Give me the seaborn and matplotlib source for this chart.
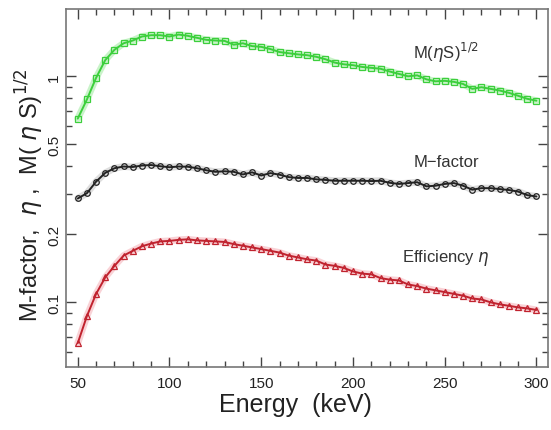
import numpy as np
import pandas as pd
import matplotlib
matplotlib.use("Agg")
import matplotlib.pyplot as plt
from matplotlib.ticker import FixedLocator, NullFormatter
import seaborn as sns

energy = list(range(50, 301, 5))

m_sqrt_etaS = [0.65, 0.79, 0.985, 1.18, 1.31, 1.40, 1.44, 1.50, 1.52, 1.52,
               1.50, 1.53, 1.51, 1.48, 1.45, 1.44, 1.435, 1.38, 1.40, 1.36,
               1.35, 1.32, 1.28, 1.265, 1.25, 1.24, 1.22, 1.19, 1.15, 1.13,
               1.12, 1.10, 1.09, 1.08, 1.05, 1.025, 1.00, 1.01, 0.97, 0.95,
               0.955, 0.945, 0.925, 0.88, 0.895, 0.88, 0.865, 0.845, 0.82, 0.795,
               0.78]

m_factor = [0.288, 0.304, 0.342, 0.374, 0.392, 0.399, 0.397, 0.403, 0.405, 0.400,
            0.396, 0.399, 0.398, 0.392, 0.384, 0.378, 0.380, 0.378, 0.368, 0.376,
            0.364, 0.373, 0.367, 0.358, 0.355, 0.355, 0.350, 0.348, 0.345, 0.345,
            0.345, 0.345, 0.344, 0.345, 0.338, 0.334, 0.337, 0.340, 0.326, 0.328,
            0.334, 0.337, 0.328, 0.315, 0.320, 0.320, 0.317, 0.314, 0.309, 0.298,
            0.294]

efficiency = [0.066, 0.087, 0.109, 0.129, 0.145, 0.161, 0.169, 0.177, 0.182, 0.186,
              0.187, 0.189, 0.190, 0.188, 0.187, 0.186, 0.185, 0.181, 0.178, 0.175,
              0.172, 0.169, 0.166, 0.161, 0.158, 0.155, 0.153, 0.147, 0.145, 0.142,
              0.137, 0.134, 0.133, 0.128, 0.126, 0.125, 0.120, 0.118, 0.115, 0.113,
              0.111, 0.109, 0.107, 0.104, 0.103, 0.100, 0.098, 0.0965, 0.095, 0.094,
              0.0925]

x_ticks = [50, 100, 150, 200, 250, 300]
y_ticks = [0.1, 0.2, 0.5, 1]
y_tick_labels = ["0.1", "0.2", "0.5", "1"]
y_minor = [0.06, 0.07, 0.08, 0.09, 0.3, 0.4, 0.6, 0.7, 0.8, 0.9]

sns.set_style("ticks")
plt.rcParams["font.family"] = ["Liberation Sans", "DejaVu Sans"]
plt.rcParams["mathtext.fontset"] = "dejavusans"

fig = plt.figure(figsize=(5.51, 4.31), dpi=100)
ax = fig.add_axes([0.1198, 0.1455, 0.8748, 0.8313])

series = [
    (m_sqrt_etaS, "#3ccf3c", "#a6eca6", "s"),
    (m_factor, "#222222", "#c8c8c8", "o"),
    (efficiency, "#c0222e", "#f5b5bc", "^"),
]
for vals, col, halo, mk in series:
    df = pd.DataFrame({"E": energy, "v": vals})
    sns.lineplot(data=df, x="E", y="v", ax=ax, color=halo, lw=5, alpha=0.6,
                 zorder=1, legend=False)
    sns.lineplot(data=df, x="E", y="v", ax=ax, color=col, lw=1.4,
                 marker=mk, markersize=4, markerfacecolor="none",
                 markeredgecolor=col, markeredgewidth=0.9, zorder=2, legend=False)

ax.set_yscale("log")
ax.set_xlim(43.6, 306.3)
ax.set_ylim(0.0516, 1.985)

ax.xaxis.set_major_locator(FixedLocator(x_ticks))
ax.xaxis.set_minor_locator(FixedLocator(list(range(50, 301, 10))))
ax.set_xticklabels([str(t) for t in x_ticks])
ax.yaxis.set_major_locator(FixedLocator(y_ticks))
ax.yaxis.set_minor_locator(FixedLocator(y_minor))
ax.yaxis.set_minor_formatter(NullFormatter())
ax.set_yticklabels(y_tick_labels, rotation=90, va="center")

ax.tick_params(which="both", direction="in", top=True, right=True,
               colors="#444444", labelcolor="#222222", labelsize=11)
ax.tick_params(which="major", length=7, width=1)
ax.tick_params(which="minor", length=4, width=1)
ax.tick_params(axis="x", pad=6)
for sp in ax.spines.values():
    sp.set_color("#777777")
    sp.set_linewidth(1.2)

ax.set_xlabel("Energy  (keV)", fontsize=18, color="#222222")
ax.xaxis.label.set_verticalalignment("center")
ax.xaxis.set_label_coords(0.475, -0.102)
ax.set_ylabel(r"M-factor,  $\eta$ ,  M( $\eta$ S)$^{1/2}$", fontsize=17,
              color="#222222")
ax.yaxis.label.set_verticalalignment("center")
ax.yaxis.set_label_coords(-0.075, 0.484)

ax.text(250.7, 1.28, r"M($\eta$S)$^{1/2}$", fontsize=12, color="#333333",
        ha="center", va="center")
ax.text(250.7, 0.418, "M\u2212factor", fontsize=12, color="#333333",
        ha="center", va="center")
ax.text(250.7, 0.158, r"Efficiency $\eta$", fontsize=12, color="#333333",
        ha="center", va="center")

fig.savefig("out.png", dpi=100)
